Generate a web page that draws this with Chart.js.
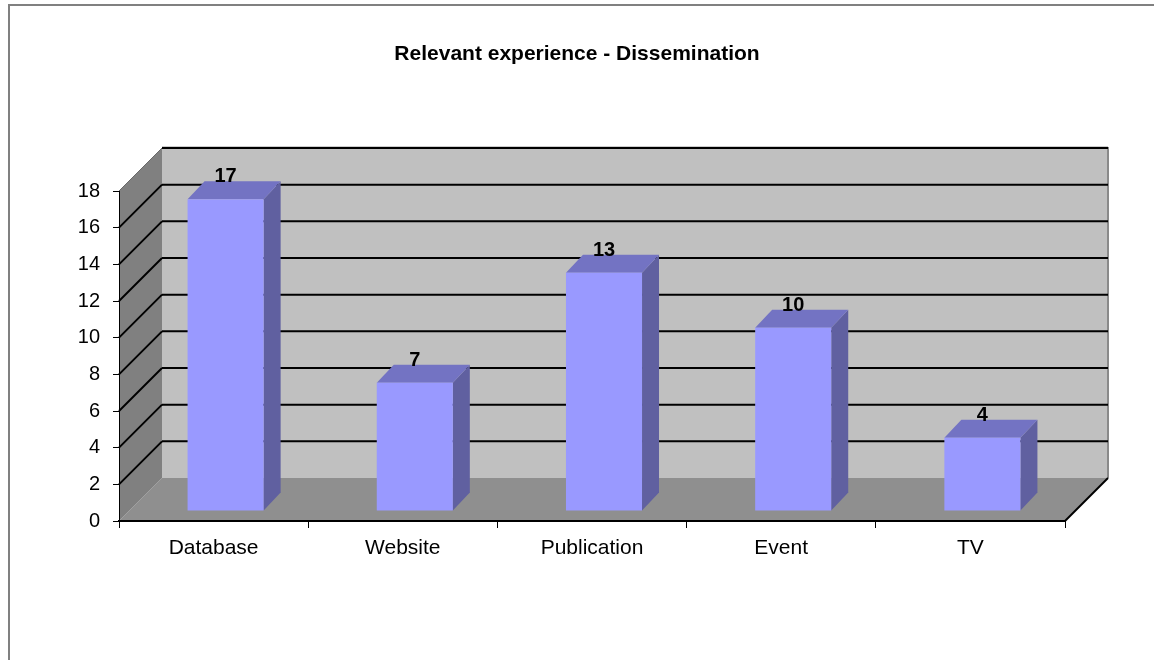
<!DOCTYPE html>
<html>
<head>
<meta charset="utf-8">
<title>Relevant experience - Dissemination</title>
<script src="https://cdn.jsdelivr.net/npm/chart.js@4.4.1/dist/chart.umd.min.js"></script>
<style>
  html, body { margin: 0; padding: 0; background: #fff; }
  canvas { display: block; }
</style>
</head>
<body>
<canvas id="chart" width="1154" height="660"></canvas>
<script>
const categories = ["Database", "Website", "Publication", "Event", "TV"];
const counts = [17, 7, 13, 10, 4];
const yMax = 18;
const yStep = 2;

// oblique offsets for the fake 3D look
const depth = { x: 43, y: -43 };
const barShift = { x: 12, y: -10 };
const barDepth = { x: 17, y: -18 };

function poly(ctx, pts, fill) {
  ctx.beginPath();
  ctx.moveTo(pts[0][0], pts[0][1]);
  for (let i = 1; i < pts.length; i++) ctx.lineTo(pts[i][0], pts[i][1]);
  ctx.closePath();
  ctx.fillStyle = fill;
  ctx.fill();
}

function line(ctx, x1, y1, x2, y2, color, w) {
  ctx.beginPath();
  ctx.moveTo(x1, y1);
  ctx.lineTo(x2, y2);
  ctx.strokeStyle = color;
  ctx.lineWidth = w;
  ctx.stroke();
}

const box3d = {
  id: "box3d",
  beforeDraw(chart) {
    const { ctx, chartArea: a } = chart;
    const y = chart.scales.y;
    const y0 = y.getPixelForValue(0);
    const yTop = y.getPixelForValue(yMax);
    const dx = depth.x, dy = depth.y;
    ctx.save();
    ctx.fillStyle = "#fff";
    ctx.fillRect(0, 0, chart.width, chart.height);

    // outer frame
    ctx.beginPath();
    ctx.moveTo(9, chart.height);
    ctx.lineTo(9, 5);
    ctx.lineTo(chart.width, 5);
    ctx.strokeStyle = "#808080";
    ctx.lineWidth = 2;
    ctx.stroke();

    // walls and floor
    ctx.fillStyle = "#c0c0c0";
    ctx.fillRect(a.left + dx, yTop + dy, a.right - a.left, y0 - yTop);
    poly(ctx, [[a.left, y0], [a.left, yTop], [a.left + dx, yTop + dy], [a.left + dx, y0 + dy]], "#808080");
    poly(ctx, [[a.left, y0], [a.right, y0], [a.right + dx, y0 + dy], [a.left + dx, y0 + dy]], "#8f8f8f");

    line(ctx, a.right + dx, yTop + dy - 1, a.right + dx, y0 + dy, "#8a8a8a", 2);
    line(ctx, a.left + dx, yTop + dy - 1, a.right + dx, yTop + dy - 1, "#999", 1);
    line(ctx, a.left, yTop, a.left + dx, yTop + dy, "#6a6a6a", 1);
    line(ctx, a.left, y0, a.left + dx, y0 + dy, "#a0a0a0", 1);

    // gridlines on back wall and left wall
    for (let v = yStep; v <= yMax; v += yStep) {
      const py = y.getPixelForValue(v);
      line(ctx, a.left + dx, py + dy, a.right + dx, py + dy, "#000", 2);
      if (v < yMax) line(ctx, a.left, py, a.left + dx, py + dy, "#000", 2);
    }

    // floor right edge
    line(ctx, a.right, y0, a.right + dx, y0 + dy, "#000", 2);
    ctx.restore();
  },
  afterDatasetsDraw(chart) {
    const { ctx } = chart;
    const meta = chart.getDatasetMeta(0);
    ctx.save();
    meta.data.forEach((bar, i) => {
      const { x, y, base, width } = bar.getProps(["x", "y", "base", "width"], true);
      const l = x - width / 2 + barShift.x;
      const r = x + width / 2 + barShift.x;
      const t = y + barShift.y;
      const b = base + barShift.y;
      const bx = barDepth.x, by = barDepth.y;
      poly(ctx, [[r, t], [r + bx, t + by], [r + bx, b + by], [r, b]], "#6060a0");
      poly(ctx, [[l, t], [r, t], [r + bx, t + by], [l + bx, t + by]], "#7373c3");
      ctx.fillStyle = "#9999ff";
      ctx.fillRect(l, t, r - l, b - t);

      ctx.fillStyle = "#000";
      ctx.font = 'bold 20px "Liberation Sans", Arial, sans-serif';
      ctx.textAlign = "center";
      ctx.textBaseline = "alphabetic";
      ctx.fillText(String(counts[i]), (l + r) / 2, t + by + 1);
    });
    ctx.restore();
  }
};

Chart.defaults.font.family = '"Liberation Sans", Arial, sans-serif';
Chart.defaults.color = "#000";

new Chart(document.getElementById("chart").getContext("2d"), {
  type: "bar",
  data: {
    labels: categories,
    datasets: [{
      data: counts,
      backgroundColor: "rgba(0,0,0,0)",
      borderWidth: 0,
      barPercentage: 0.402,
      categoryPercentage: 1
    }]
  },
  options: {
    responsive: false,
    animation: false,
    devicePixelRatio: 1,
    layout: { padding: 0 },
    plugins: {
      legend: { display: false },
      tooltip: { enabled: false },
      title: {
        display: true,
        text: "Relevant experience - Dissemination",
        color: "#000",
        font: { size: 21, weight: "bold" },
        padding: { top: 42, bottom: 123.8 }
      }
    },
    scales: {
      x: {
        offset: true,
        grid: { display: true, drawOnChartArea: false, drawTicks: true, tickLength: 7, color: "#000", offset: true },
        border: { display: true, color: "#000", width: 2 },
        ticks: { color: "#000", font: { size: 21 }, padding: 8, maxRotation: 0, autoSkip: false },
        afterFit(s) { s.height = 139; }
      },
      y: {
        min: 0,
        max: yMax,
        grid: { display: true, drawOnChartArea: false, drawTicks: true, tickLength: 6, color: "#000" },
        border: { display: true, color: "#000", width: 1 },
        ticks: { stepSize: yStep, color: "#000", font: { size: 20 }, padding: 13 },
        afterFit(s) { s.width = 119; }
      },
      // empty right-hand axis that leaves room for the depth of the walls
      yDepth: {
        position: "right",
        min: 0,
        max: yMax,
        grid: { display: false },
        border: { display: false },
        ticks: { display: false },
        afterFit(s) { s.width = 89; }
      }
    }
  },
  plugins: [box3d]
});
</script>
</body>
</html>
